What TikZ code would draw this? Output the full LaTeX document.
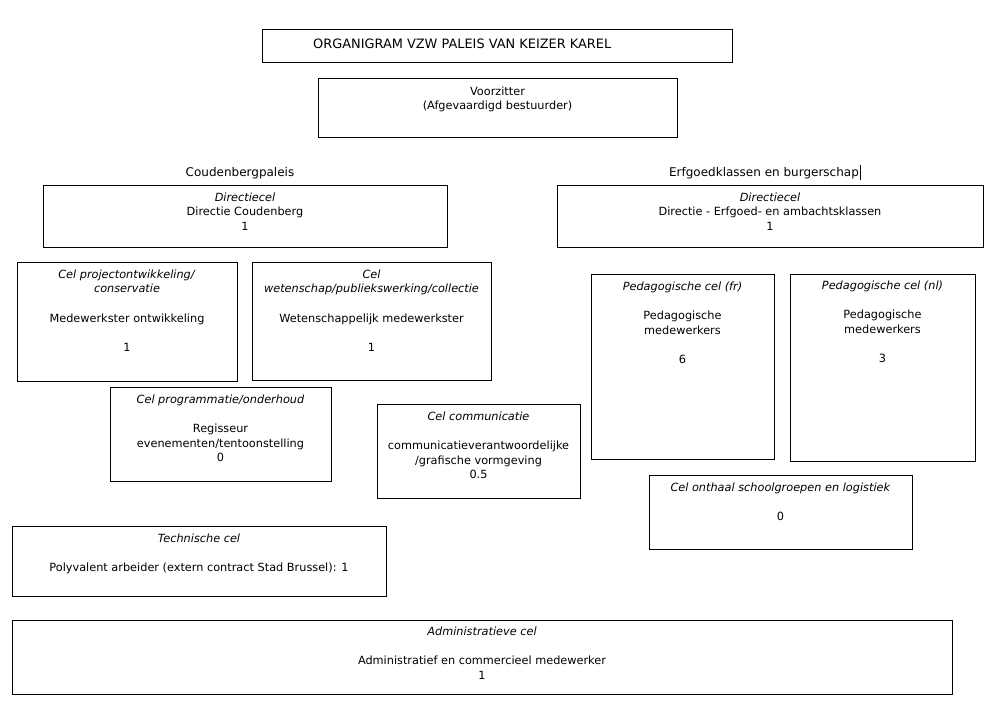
\documentclass[tikz,border=0pt]{standalone}
\usepackage{fontspec}
\setmainfont{DejaVu Sans}
\newcommand\St{\rule{0pt}{9pt}}
\begin{document}
\begin{tikzpicture}[x=1pt,y=-1pt,
  box/.style={draw, line width=0.9pt, inner sep=0pt, outer sep=0pt},
  txt/.style={align=center, inner sep=0pt, font=\fontsize{11.3}{14.6}\selectfont, anchor=north},
  lbl/.style={inner sep=0pt, font=\fontsize{12}{14}\selectfont}]
\useasboundingbox[fill=white] (0,0) rectangle (997,713);

% boxes
\node[box, minimum width=470pt, minimum height=33pt] (title) at (497,45.5) {};
\node[box, minimum width=359pt, minimum height=59pt] (voor) at (497.5,107.5) {};
\node[box, minimum width=404pt, minimum height=62pt] (dirL) at (245,216) {};
\node[box, minimum width=426pt, minimum height=62pt] (dirR) at (770,216) {};
\node[box, minimum width=220pt, minimum height=119pt] (proj) at (127,321.5) {};
\node[box, minimum width=239pt, minimum height=118pt] (wet) at (371.5,321) {};
\node[box, minimum width=183pt, minimum height=185pt] (pedfr) at (682.5,366.5) {};
\node[box, minimum width=185pt, minimum height=187pt] (pednl) at (882.5,367.5) {};
\node[box, minimum width=221pt, minimum height=94pt] (prog) at (220.5,434) {};
\node[box, minimum width=203pt, minimum height=94pt] (comm) at (478.5,451) {};
\node[box, minimum width=263pt, minimum height=74pt] (onth) at (780.5,512) {};
\node[box, minimum width=374pt, minimum height=70pt] (tech) at (199,561) {};
\node[box, minimum width=940pt, minimum height=74pt] (adm) at (482,657) {};

% texts
\node[lbl, font=\fontsize{12.9}{14}\selectfont, anchor=base west] (titleT) at (313,48) {ORGANIGRAM VZW PALEIS VAN KEIZER KAREL};
\node[txt] (voorT) at (497.5,86) {\St Voorzitter\\(Afgevaardigd bestuurder)};
\node[lbl, anchor=base] (coudL) at (240,176.5) {Coudenbergpaleis};
\node[lbl, anchor=base] (erfL) at (764,176.5) {Erfgoedklassen en burgerschap};
\draw[line width=0.7pt] ([xshift=1pt]erfL.base east) ++(0,3.5) -- ++(0,-15);

\node[txt] (dirLT) at (245,192) {\St\textit{Directiecel}\\Directie Coudenberg\\1};
\node[txt] (dirRT) at (770,192) {\St\textit{Directiecel}\\Directie - Erfgoed- en ambachtsklassen\\1};
\node[txt] (projT) at (127,269) {\St\textit{Cel projectontwikkeling/}\\\textit{conservatie}\\\mbox{}\\Medewerkster ontwikkeling\\\mbox{}\\1};
\node[txt] (wetT) at (371.5,269) {\St\textit{Cel}\\\textit{wetenschap/publiekswerking/collectie}\\\mbox{}\\Wetenschappelijk medewerkster\\\mbox{}\\1};
\node[txt] (pedfrT) at (682.5,281) {\St\textit{Pedagogische cel (fr)}\\\mbox{}\\Pedagogische\\medewerkers\\\mbox{}\\6};
\node[txt] (pednlT) at (882.5,280) {\St\textit{Pedagogische cel (nl)}\\\mbox{}\\Pedagogische\\medewerkers\\\mbox{}\\3};
\node[txt] (progT) at (220.5,394) {\St\textit{Cel programmatie/onderhoud}\\\mbox{}\\Regisseur\\evenementen/tentoonstelling\\0};
\node[txt] (commT) at (478.5,411) {\St\textit{Cel communicatie}\\\mbox{}\\communicatieverantwoordelijke\\/grafische vormgeving\\0.5};
\node[txt] (onthT) at (780.5,482) {\St\textit{Cel onthaal schoolgroepen en logistiek}\\\mbox{}\\0};
\node[txt] (techT) at (199,533) {\St\textit{Technische cel}\\\mbox{}\\Polyvalent arbeider (extern contract Stad Brussel): 1};
\node[txt] (admT) at (482,626) {\St\textit{Administratieve cel}\\\mbox{}\\Administratief en commercieel medewerker\\1};
\end{tikzpicture}
\end{document}
